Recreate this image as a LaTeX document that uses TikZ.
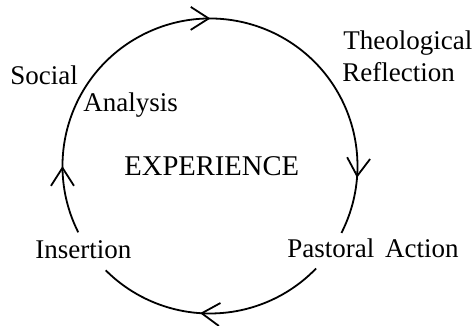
\documentclass[tikz,border=0pt]{standalone}
\usepackage{fontspec}
\setmainfont{Liberation Serif}
\usetikzlibrary{arrows.meta,decorations.markings}
\tikzset{barb/.tip={Straight Barb[length=9pt,width=11.5pt,line width=.9pt]}}
\begin{document}
\begin{tikzpicture}[x=.5pt,y=.5pt,font=\fontsize{13.5}{16}\selectfont,
  lbl/.style={anchor=base west,inner sep=0pt},
  cyc/.style={line width=.9pt,postaction={decorate}}]
\useasboundingbox(0,0)rectangle(472,326);
\coordinate(ctr)at(210,160);
% the cycle: one long arc over the top, one short arc at the bottom
\draw[cyc,decoration={markings,mark=at position .114 with {\arrow{barb}},
  mark=at position .5 with {\arrow{barb}},mark=at position .904 with {\arrow{barb}}}]
  ([shift={(206.7:73.75pt)}]ctr)arc[start angle=206.7,end angle=-27,radius=73.75pt];
\draw[cyc,decoration={markings,mark=at position .548 with {\arrow{barb}}}]
  ([shift={(-44:73.75pt)}]ctr)arc[start angle=-44,end angle=-135,radius=73.75pt];
\node[lbl](theo)at(343,276){Theological};
\node[lbl](refl)at(342,244){Reflection};
\node[lbl](soc)at(10,241){Social};
\node[lbl](ana)at(83,214){Analysis};
\node[lbl,font=\fontsize{14.3}{17}\selectfont](exp)at(124,150){EXPERIENCE};
\node[lbl](ins)at(35,67){Insertion};
\node[lbl](past)at(287,68){Pastoral\hspace{.15em} Action};
\end{tikzpicture}
\end{document}
